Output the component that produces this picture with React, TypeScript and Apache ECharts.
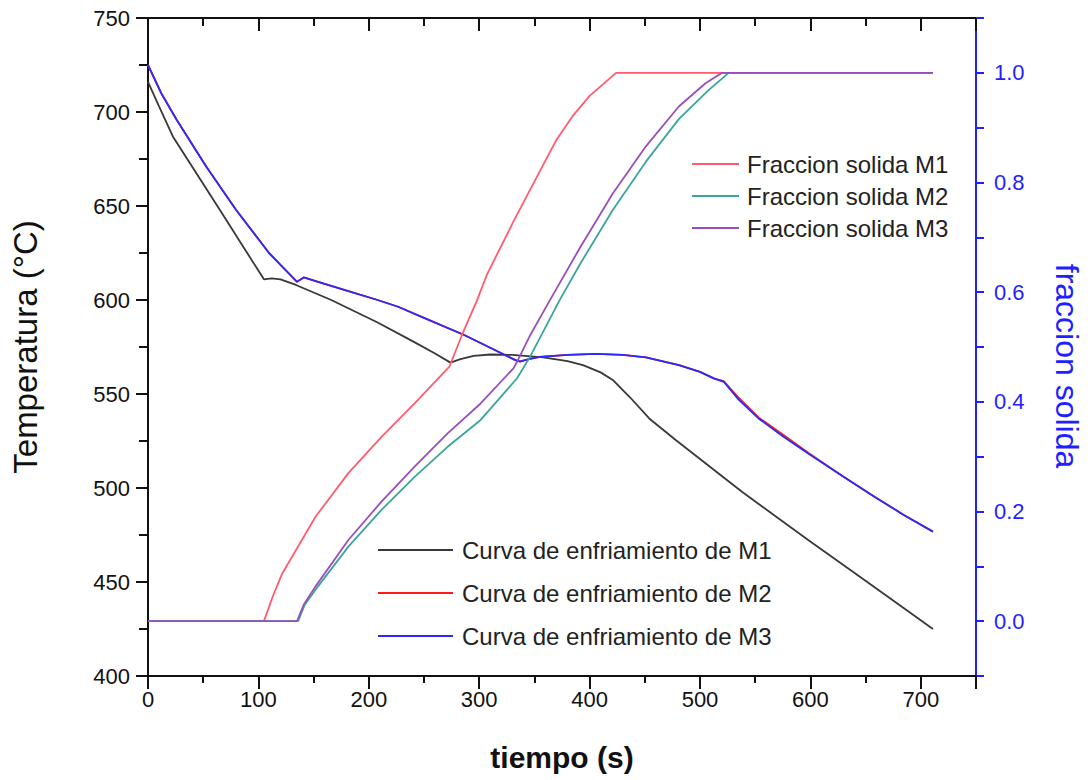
import React, { useEffect, useRef } from "react";
import * as echarts from "echarts";

// ---- Data ----
// Cooling curve M1 (temperature, left axis)
const coolTime1 = [0, 10, 22.5, 65, 105, 112, 120, 134, 166, 208, 240, 260, 274, 283, 295, 310, 330, 358, 380, 394, 410, 421, 437, 454, 478, 538, 598, 655, 711];
const coolTemp1 = [716, 703, 687, 648, 611, 611.5, 611, 608, 600, 588, 578, 571.5, 566.7, 568.5, 570.3, 571, 570.8, 569.5, 567.5, 565.4, 561.5, 557.5, 548, 537, 525.5, 498, 472.3, 448.5, 425];

// Cooling curves M2 / M3 (temperature, left axis)
const coolTime23 = [0, 12, 25.8, 52.7, 79.7, 109.6, 135, 141, 160, 180, 208, 226.5, 250, 286.4, 310, 332.8, 337, 345, 355, 380, 406, 430, 451, 481, 500, 512.5, 521.5, 535, 553, 575, 598, 630, 658, 685, 711];
const coolTemp2 = [725, 710, 696, 671, 648, 625, 609.7, 612, 608.6, 605, 600, 596.4, 590.5, 581.4, 574.6, 568, 567.4, 568.5, 569.8, 570.8, 571.3, 570.8, 569.5, 565.4, 561.8, 558.3, 556.8, 548, 537.5, 528.5, 518.8, 506, 495.4, 485.5, 476.8];
const coolTemp3 = [725, 710, 696, 671, 648, 625, 609.7, 612, 608.6, 605, 600, 596.4, 590.5, 581.4, 574.6, 568, 567.2, 568.5, 569.8, 570.8, 571.3, 570.8, 569.5, 565.4, 561.8, 558.3, 556.5, 547, 537, 527.5, 518.4, 506, 495.4, 485.5, 476.8];

// Solid fraction curves (right axis)
const fracTime1 = [0, 105, 113, 121.6, 151.6, 181.5, 211.5, 241.5, 273, 285, 298, 307, 331.3, 361.3, 370, 385, 400, 424, 711];
const frac1 = [0, 0, 0.045, 0.087, 0.19, 0.27, 0.336, 0.397, 0.464, 0.525, 0.585, 0.632, 0.73, 0.845, 0.878, 0.922, 0.958, 1.0, 1.0];

const fracTime2 = [0, 136, 142, 151.6, 181.5, 211.5, 241.5, 271.4, 301.3, 334.3, 346, 373, 391, 421, 451, 481, 508, 526, 711];
const frac2 = [0, 0, 0.03, 0.057, 0.136, 0.203, 0.263, 0.318, 0.367, 0.443, 0.482, 0.586, 0.65, 0.75, 0.838, 0.916, 0.969, 1.0, 1.0];

const fracTime3 = [0, 135, 141, 151.6, 181.5, 211.5, 241.5, 271.4, 301.3, 331, 334.3, 346.3, 364.2, 391, 421, 451, 481, 505, 520, 711];
const frac3 = [0, 0, 0.03, 0.063, 0.148, 0.218, 0.282, 0.3425, 0.397, 0.461, 0.473, 0.522, 0.586, 0.68, 0.78, 0.866, 0.939, 0.981, 1.0, 1.0];

const seriesNamesCool = ["Curva de enfriamiento de M1", "Curva de enfriamiento de M2", "Curva de enfriamiento de M3"];
const seriesNamesFrac = ["Fraccion solida M1", "Fraccion solida M2", "Fraccion solida M3"];

const xMin = 0, xMax = 750;
const tMin = 400, tMax = 750;
const fMin = -0.1, fMax = 1.1;

const zip = (a: number[], b: number[]) => a.map((v, i) => [v, b[i]]);

const FONT = "'Liberation Sans', Arial, sans-serif";
const BLUE_AXIS = "#1f1fff";

export default function App() {
  const ref = useRef<HTMLDivElement>(null);

  useEffect(() => {
    if (!ref.current) return;
    const chart = echarts.init(ref.current, undefined, { renderer: "svg" });

    const lineSeries = (name: string, data: number[][], color: string, yIdx: number) => ({
      name,
      type: "line",
      xAxisIndex: 0,
      yAxisIndex: yIdx,
      data,
      color,
      showSymbol: false,
      symbol: "none",
      lineStyle: { color, width: 1.8 },
      emphasis: { disabled: true },
    });

    const baseX = {
      type: "value",
      min: xMin,
      max: xMax,
      splitLine: { show: false },
    };

    chart.setOption({
      animation: false,
      backgroundColor: "#ffffff",
      textStyle: { fontFamily: FONT },
      grid: { left: 148, top: 18, width: 835, height: 658, containLabel: false },
      legend: [
        {
          data: seriesNamesFrac,
          orient: "vertical",
          left: 692,
          top: 152,
          padding: 0,
          itemGap: 8,
          itemWidth: 47,
          itemHeight: 2,
          icon: "rect",
          selectedMode: false,
          textStyle: { fontSize: 24, color: "#222", fontFamily: FONT, lineHeight: 24, padding: [0, 0, 0, 3] },
        },
        {
          data: seriesNamesCool,
          orient: "vertical",
          left: 378,
          top: 538,
          padding: 0,
          itemGap: 19,
          itemWidth: 75,
          itemHeight: 2,
          icon: "rect",
          selectedMode: false,
          textStyle: { fontSize: 24, color: "#222", fontFamily: FONT, lineHeight: 24, padding: [0, 0, 0, 4] },
        },
      ],
      xAxis: [
        {
          ...baseX,
          position: "bottom",
          interval: 100,
          name: "tiempo (s)",
          nameLocation: "middle",
          nameGap: 66,
          nameTextStyle: { fontSize: 30, fontWeight: "bold", color: "#111", fontFamily: FONT },
          axisLine: { show: true, onZero: false, lineStyle: { color: "#111", width: 2 } },
          axisTick: { show: true, inside: false, length: 13, lineStyle: { color: "#111", width: 2 } },
          axisLabel: {
            show: true,
            margin: 12,
            fontSize: 22,
            color: "#111",
            fontFamily: FONT,
            formatter: (v: number) => (v % 100 === 0 && v <= 700 ? String(v) : ""),
          },
        },
        {
          ...baseX,
          position: "bottom",
          interval: 50,
          axisLine: { show: false, onZero: false },
          axisTick: { show: true, inside: false, length: 7, lineStyle: { color: "#111", width: 2 } },
          axisLabel: { show: false },
        },
        {
          ...baseX,
          position: "top",
          interval: 100,
          axisLine: { show: true, onZero: false, lineStyle: { color: "#111", width: 2 } },
          axisTick: { show: true, inside: true, length: 13, lineStyle: { color: "#111", width: 2 } },
          axisLabel: { show: false },
        },
        {
          ...baseX,
          position: "top",
          interval: 50,
          axisLine: { show: false, onZero: false },
          axisTick: { show: true, inside: true, length: 8, lineStyle: { color: "#111", width: 2 } },
          axisLabel: { show: false },
        },
      ],
      yAxis: [
        {
          type: "value",
          position: "left",
          min: tMin,
          max: tMax,
          interval: 50,
          name: "Temperatura (°C)",
          nameLocation: "middle",
          nameGap: 106,
          nameTextStyle: { fontSize: 33, color: "#111", fontFamily: FONT },
          splitLine: { show: false },
          axisLine: { show: true, onZero: false, lineStyle: { color: "#111", width: 2 } },
          axisTick: { show: true, inside: false, length: 12, lineStyle: { color: "#111", width: 2 } },
          minorTick: { show: true, splitNumber: 2, length: 9, lineStyle: { color: "#111", width: 2 } },
          axisLabel: { show: true, margin: 18, fontSize: 22, color: "#111", fontFamily: FONT },
        },
        {
          type: "value",
          position: "right",
          min: fMin,
          max: fMax,
          interval: 0.1,
          name: "fraccion solida",
          nameLocation: "middle",
          nameRotate: -90,
          nameGap: 75,
          nameTextStyle: { fontSize: 32, color: BLUE_AXIS, fontFamily: FONT, padding: [0, 0, 0, 38] },
          splitLine: { show: false },
          axisLine: { show: true, onZero: false, lineStyle: { color: BLUE_AXIS, width: 2 } },
          axisTick: { show: true, inside: false, length: 8, lineStyle: { color: BLUE_AXIS, width: 2 } },
          axisLabel: {
            show: true,
            margin: 18,
            fontSize: 22,
            color: BLUE_AXIS,
            fontFamily: FONT,
            formatter: (v: number) => {
              const k = Math.round(v * 10);
              return k >= 0 && k <= 10 && k % 2 === 0 ? (k / 10).toFixed(1) : "";
            },
          },
        },
      ],
      series: [
        lineSeries(seriesNamesCool[0], zip(coolTime1, coolTemp1), "#383838", 0),
        lineSeries(seriesNamesCool[1], zip(coolTime23, coolTemp2), "#ff1a1a", 0),
        lineSeries(seriesNamesCool[2], zip(coolTime23, coolTemp3), "#2a2aff", 0),
        lineSeries(seriesNamesFrac[0], zip(fracTime1, frac1), "#ff5c6e", 1),
        lineSeries(seriesNamesFrac[1], zip(fracTime2, frac2), "#3aa59c", 1),
        lineSeries(seriesNamesFrac[2], zip(fracTime3, frac3), "#9b4dbd", 1),
      ],
    });

    return () => chart.dispose();
  }, []);

  return (
    <div
      ref={ref}
      style={{ position: "fixed", left: 0, top: 0, width: 1091, height: 780, background: "#fff" }}
    />
  );
}
